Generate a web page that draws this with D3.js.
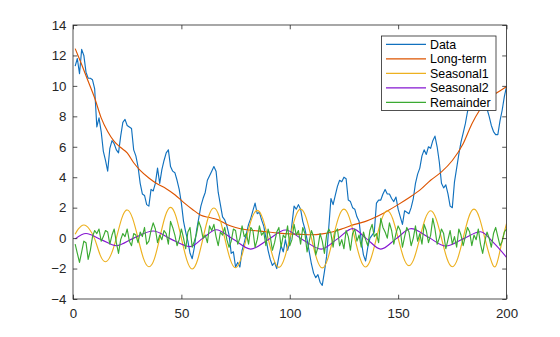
<!DOCTYPE html>
<html>
<head>
<meta charset="utf-8">
<script src="https://cdn.jsdelivr.net/npm/d3@7"></script>
<style>
  body { margin: 0; background: #fff; }
  svg { display: block; }
</style>
</head>
<body>
<svg id="chart" width="560" height="337"></svg>
<script>
// Observed series, one value per sample (samples 1..200)
const dataSeries = [
  11.3, 11.8, 10.8, 12.4, 12.0, 10.9, 10.5, 10.5, 10.4, 9.8,
  7.3, 7.9, 7.0, 5.7, 5.1, 4.4, 5.9, 6.4, 6.2, 5.8,
  5.6, 6.7, 7.6, 7.8, 7.4, 7.3, 7.2, 5.8, 5.4, 4.7,
  3.6, 2.9, 2.8, 2.2, 2.1, 3.2, 3.1, 3.6, 4.6, 3.6,
  4.5, 5.1, 5.6, 5.8, 4.7, 4.4, 4.3, 3.8, 3.2, 2.3,
  1.1, 0.4, -0.2, -1.0, -1.35, -0.6, 0.5, 1.3, 2.1, 2.6,
  3.0, 3.8, 4.1, 4.4, 4.7, 4.4, 3.0, 2.2, 1.4, 1.2,
  0.8, 0.2, -1.0, -0.9, -1.9, -1.6, -1.9, -0.8, -0.3, 0.3,
  0.9, 1.3, 1.8, 2.3, 1.6, 1.7, 1.2, 0.8, 0.0, -0.8,
  -1.4, -1.8, -1.6, -2.0, -1.2, -0.5, -0.9, -0.1, -0.8, -0.3,
  0.9, 2.1, 1.9, 2.2, 1.9, 1.1, 0.6, -0.1, -0.9, -1.7,
  -2.3, -2.6, -2.4, -2.9, -3.1, -2.2, -1.2, 0.7, 2.6, 2.2,
  2.8, 3.4, 3.8, 3.7, 4.0, 3.9, 2.5, 2.4, 2.0, 1.9,
  1.4, 1.1, -0.2, -1.1, -1.5, -0.6, 0.0, 0.2, 0.4, 2.3,
  2.5, 2.5, 2.9, 3.2, 2.9, 2.9, 2.6, 2.4, 2.7, 1.9,
  1.4, 0.9, 1.8, 1.7, 1.6, 2.0, 2.6, 3.6, 4.2, 4.6,
  5.4, 5.8, 5.5, 6.0, 5.9, 6.4, 6.7, 6.0, 5.0, 3.6,
  3.3, 3.5, 2.9, 2.1, 2.0, 3.7, 4.6, 5.5, 6.3, 6.9,
  7.5, 8.3, 9.0, 9.4, 9.2, 9.9, 10.5, 11.0, 11.6, 9.5,
  8.5, 8.0, 7.4, 7.0, 6.8, 6.8, 7.7, 8.4, 9.3, 9.95
];

// Remainder component, one value per sample
const remainder = [
  -0.4, -1.0, -1.6, -0.9, -0.2, -0.3, -1.4, -0.8, 0.1, 0.5,
  0.3, 0.6, -0.2, 0.1, 0.5, 0.4, -0.4, 0.2, 0.6, -0.3,
  -1.0, -0.1, 0.3, 0.1, 0.6, -0.2, -0.5, 0.3, 0.2, -0.3,
  0.4, 0.1, 0.7, -0.4, -0.2, 0.5, 1.0, 0.6, -0.3, 0.2,
  -0.1, 0.5, 0.3, -0.4, 1.1, 0.7, 0.2, -0.5, -0.1, 0.6,
  0.0, -0.7, 0.4, 0.7, -0.6, -0.2, 0.3, 1.1, 0.7, 0.0,
  0.2, -0.3, 0.8, 0.5, 0.9, 0.1, -0.5, 0.4, 0.2, 0.7,
  -0.1, -0.6, -0.2, 0.6, 0.5, -0.4, 0.0, 0.8, 0.1, 0.3,
  -0.4, 0.7, 0.5, -0.6, -0.1, 0.8, 0.2, 0.4, -0.5, 0.6,
  0.1, -0.8, -0.3, 0.4, 0.7, -0.6, 0.2, 0.0, 0.8, -0.5,
  -0.1, 0.9, 0.2, 0.5, -0.4, 0.7, 0.3, -0.9, -0.2, 0.5,
  0.1, -1.1, -0.6, 0.3, -0.2, -1.0, 0.2, 0.6, 0.3, -0.6,
  0.4, 0.6, -0.5, -0.1, -0.7, 0.5, 0.1, -0.8, 0.3, 0.6,
  -0.2, 0.2, -0.6, 0.4, -0.1, -0.5, 0.5, 0.9, 0.1, 0.3,
  -0.3, 1.3, 0.7, 0.4, 0.0, 1.0, 0.5, -0.4, 0.3, 0.8,
  0.5, -0.6, 0.1, 0.7, 0.4, -0.5, 0.0, 0.8, -0.2, 0.3,
  -0.4, 0.9, 0.5, -0.3, 0.2, 1.3, 0.6, -0.4, 0.0, 0.6,
  0.3, -0.7, -0.1, 0.5, -0.4, 0.1, -0.6, 0.6, 0.2, -0.5,
  0.1, 0.7, 0.4, -0.5, 0.2, -0.1, 0.6, -0.4, -1.0, -0.2,
  0.4, 0.0, -0.6, 0.3, 0.7, 0.1, -0.5, -0.2, 0.4, 0.6
];

// Smooth components, sampled at the listed sample positions
const longTermT = [1, 4, 7, 10, 13, 16, 19, 22, 25, 28, 31, 35, 39, 43, 47, 51, 55, 59, 63, 67,
  71, 75, 80, 85, 90, 95, 100, 105, 110, 115, 120, 125, 130, 135, 140, 145, 150, 155, 160, 165,
  170, 175, 180, 184, 188, 191, 195, 200];
const longTerm = [12.45, 11.4, 10.3, 9.2, 7.9, 7.0, 6.35, 5.95, 5.6, 4.95, 4.45, 3.95, 3.55, 3.25, 2.85, 2.35, 1.9, 1.5, 1.35, 1.2,
  0.9, 0.7, 0.55, 0.48, 0.4, 0.33, 0.28, 0.25, 0.22, 0.28, 0.42, 0.65, 0.9, 1.1, 1.4, 1.78, 2.2, 2.65, 3.15, 3.8,
  4.35, 5.1, 6.2, 7.5, 8.5, 9.1, 9.5, 9.95];

const seasonal1T = [1, 2.5, 5, 7.5, 10, 12.5, 15, 17.5, 20, 22.5, 25, 27.5, 30, 32.5, 35, 37.5, 40,
  42.5, 45, 47.5, 50, 52.5, 55, 57.5, 60, 62.5, 65, 67.5, 70, 72.5, 75, 77.5, 80,
  82.5, 85, 87.5, 90, 92.5, 95, 97.5, 100, 102.5, 105, 107.5, 110, 112.5, 115, 117.5, 120,
  122.5, 125, 127.5, 130, 132.5, 135, 137.5, 140, 142.5, 145, 147.5, 150, 152.5, 155, 157.5, 160,
  162.5, 165, 167.5, 170, 172.5, 175, 177.5, 180, 182.5, 185, 187.5, 190, 192.5, 195, 197.5, 200];
const seasonal1 = [0.25, 0.6, 0.86, 0.6, -0.05, -1.1, -1.55, -1.1, 0.0, 1.3, 1.85, 1.3, 0.0, -1.33, -1.88, -1.38, 0.0,
  1.42, 2.02, 1.43, 0.0, -1.43, -2.03, -1.42, 0.0, 1.4, 1.98, 1.4, 0.0, -1.38, -1.95, -1.35, 0.0,
  1.3, 1.82, 1.3, 0.0, -1.35, -1.92, -1.35, 0.0, 1.35, 1.9, 1.36, 0.0, -1.38, -1.96, -1.38, 0.0,
  1.35, 1.9, 1.35, 0.0, -1.35, -1.9, -1.32, 0.0, 1.27, 1.8, 1.27, 0.0, -1.28, -1.81, -1.28, 0.0,
  1.27, 1.8, 1.28, 0.0, -1.32, -1.88, -1.33, 0.0, 1.34, 1.9, 1.33, 0.0, -1.3, -1.85, -0.5, 0.95];

const seasonal2T = [1, 6, 13, 20, 28, 37, 45, 54, 60, 66, 74, 82, 90, 98, 106, 114.5, 122, 129, 135.5,
  142, 149, 156, 164, 172, 180, 188, 194, 200];
const seasonal2 = [-0.05, 0.3, -0.1, -0.5, 0.0, 0.47, -0.05, -0.56, 0.0, 0.55, -0.08, -0.72, -0.1, 0.53, -0.1, -0.72, -0.05, 0.62, -0.05,
  -0.72, -0.05, 0.62, 0.05, -0.52, -0.05, 0.42, -0.3, -1.26];

const xTicks = [0, 50, 100, 150, 200];
const yTicks = [-4, -2, 0, 2, 4, 6, 8, 10, 12, 14];
const seriesNames = ["Data", "Long-term", "Seasonal1", "Seasonal2", "Remainder"];
const seriesColors = ["#1171BE", "#DD5400", "#EDB120", "#8516D1", "#3BAA32"];

const svg = d3.select("#chart");
const plot = { left: 73, right: 506.5, top: 25, bottom: 299 };
const axisColor = "#262626";
const fontFamily = "'Liberation Sans', Arial, Helvetica, sans-serif";

const x = d3.scaleLinear().domain([0, 200]).range([plot.left, plot.right]);
const y = d3.scaleLinear().domain([-4, 14]).range([plot.bottom, plot.top]);

svg.append("defs").append("clipPath").attr("id", "plotClip")
  .append("rect")
  .attr("x", plot.left).attr("y", plot.top)
  .attr("width", plot.right - plot.left).attr("height", plot.bottom - plot.top);

// Build point lists
const samples = d3.range(1, dataSeries.length + 1);
const seriesPoints = [
  { pts: samples.map((t, i) => [t, dataSeries[i]]), curve: d3.curveLinear },
  { pts: longTermT.map((t, i) => [t, longTerm[i]]), curve: d3.curveMonotoneX },
  { pts: seasonal1T.map((t, i) => [t, seasonal1[i]]), curve: d3.curveNatural },
  { pts: seasonal2T.map((t, i) => [t, seasonal2[i]]), curve: d3.curveMonotoneX },
  { pts: samples.map((t, i) => [t, remainder[i]]), curve: d3.curveLinear }
];

const lines = svg.append("g").attr("clip-path", "url(#plotClip)");
seriesPoints.forEach((s, k) => {
  const gen = d3.line().x(d => x(d[0])).y(d => y(d[1])).curve(s.curve);
  lines.append("path")
    .attr("d", gen(s.pts))
    .attr("fill", "none")
    .attr("stroke", seriesColors[k])
    .attr("stroke-width", 1.15)
    .attr("stroke-linejoin", "round");
});

// Axes: ticks point inward on all four sides, labels on bottom and left
const tickLen = 4.3;
const styleAxis = g => {
  g.select(".domain").remove();
  g.selectAll(".tick line").attr("stroke", axisColor).attr("stroke-width", 0.8);
  g.selectAll("text").attr("fill", axisColor)
    .attr("font-family", fontFamily).attr("font-size", "13.3px");
};

svg.append("g").attr("transform", `translate(0,${plot.bottom})`)
  .call(d3.axisBottom(x).tickValues(xTicks).tickSizeInner(-tickLen).tickSizeOuter(0).tickPadding(9.5))
  .call(styleAxis);
svg.append("g").attr("transform", `translate(0,${plot.top})`)
  .call(d3.axisTop(x).tickValues(xTicks).tickSizeInner(-tickLen).tickSizeOuter(0).tickFormat(""))
  .call(styleAxis);
svg.append("g").attr("transform", `translate(${plot.left},0)`)
  .call(d3.axisLeft(y).tickValues(yTicks).tickSizeInner(-tickLen).tickSizeOuter(0).tickPadding(6.5))
  .call(styleAxis);
svg.append("g").attr("transform", `translate(${plot.right},0)`)
  .call(d3.axisRight(y).tickValues(yTicks).tickSizeInner(-tickLen).tickSizeOuter(0).tickFormat(""))
  .call(styleAxis);

svg.append("rect")
  .attr("x", plot.left).attr("y", plot.top)
  .attr("width", plot.right - plot.left).attr("height", plot.bottom - plot.top)
  .attr("fill", "none").attr("stroke", axisColor).attr("stroke-width", 0.8);

// Legend
const legend = svg.append("g").attr("transform", "translate(381.5,36)");
legend.append("rect")
  .attr("width", 114.5).attr("height", 74.5)
  .attr("fill", "#fff").attr("stroke", axisColor).attr("stroke-width", 0.8);
seriesNames.forEach((name, k) => {
  const cy = 8.3 + k * 14.5;
  legend.append("line")
    .attr("x1", 4.5).attr("x2", 44.5).attr("y1", cy).attr("y2", cy)
    .attr("stroke", seriesColors[k]).attr("stroke-width", 1.15);
  legend.append("text")
    .attr("x", 48.5).attr("y", cy).attr("dy", "0.35em")
    .attr("font-family", fontFamily).attr("font-size", "12.4px")
    .attr("fill", "#000")
    .text(name);
});
</script>
</body>
</html>
